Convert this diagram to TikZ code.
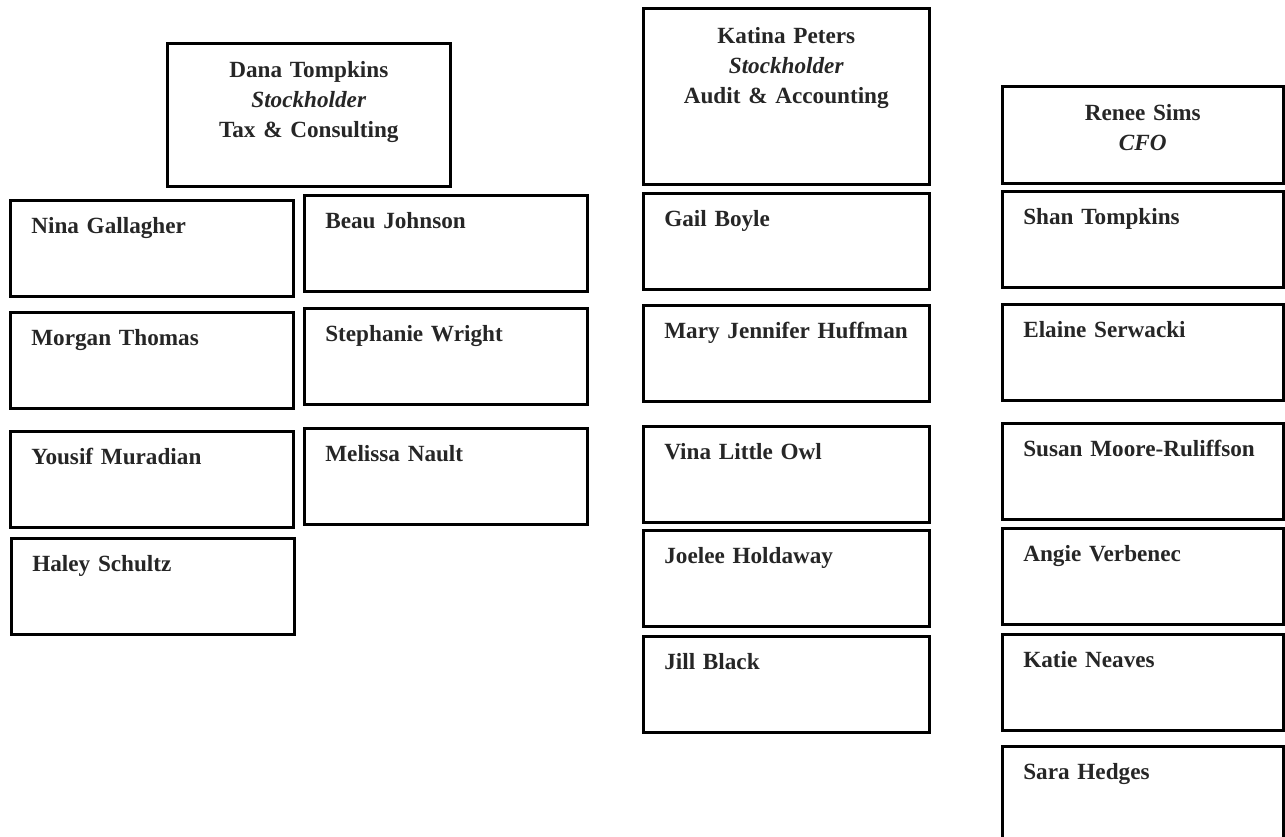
\documentclass[tikz,border=0pt]{standalone}
\usepackage{fontspec}
\setmainfont{Liberation Serif}
\usepackage{tikz}

\begin{document}
\begin{tikzpicture}[x=0.02cm,y=-0.02cm,
  box/.style={draw, line width=1.5pt, anchor=north west, inner ysep=0pt, inner xsep=0.42cm,
    font=\bfseries\fontsize{13.2}{17}\selectfont, text=black!85, text height=0.66cm},
  head/.style={box, align=center, text width=4.82cm},
  staff/.style={box, align=left, text width=#1, text depth=1.26cm},
  staff/.default=4.82cm]
       \useasboundingbox (0,0) rectangle (1285,837);

       \node[head, text height=0.68cm, text depth=2.18cm] (dana) at (166,42) {Dana Tompkins\\\textit{Stockholder}\\Tax \& Consulting};
       \node[head, text width=4.88cm, text height=0.7cm, text depth=2.82cm] (katina) at (642,7) {Katina Peters\\\textit{Stockholder}\\Audit \& Accounting};
       \node[head, text width=4.78cm, text height=0.68cm, text depth=1.26cm] (renee) at (1001,85) {Renee Sims\\\textit{CFO}};

       \node[staff] (nina) at (9,199) {Nina Gallagher};
       \node[staff] (beau) at (303,194) {Beau Johnson};
       \node[staff] (morgan) at (9,311) {Morgan Thomas};
       \node[staff] (stephanie) at (303,307) {Stephanie Wright};
       \node[staff] (yousif) at (9,430) {Yousif Muradian};
       \node[staff] (melissa) at (303,427) {Melissa Nault};
       \node[staff] (haley) at (10,537) {Haley Schultz};

       \node[staff=4.88cm] (gail) at (642,192) {Gail Boyle};
       \node[staff=4.88cm] (mary) at (642,304) {Mary Jennifer Huffman};
       \node[staff=4.88cm] (vina) at (642,425) {Vina Little Owl};
       \node[staff=4.88cm] (joelee) at (642,529) {Joelee Holdaway};
       \node[staff=4.88cm] (jill) at (642,635) {Jill Black};

       \node[staff=4.78cm] (shan) at (1001,190) {Shan Tompkins};
       \node[staff=4.78cm] (elaine) at (1001,303) {Elaine Serwacki};
       \node[staff=4.78cm] (susan) at (1001,422) {Susan Moore-Ruliffson};
       \node[staff=4.78cm] (angie) at (1001,527) {Angie Verbenec};
       \node[staff=4.78cm] (katie) at (1001,633) {Katie Neaves};
       \node[staff=4.78cm] (sara) at (1001,745) {Sara Hedges};
    \end{tikzpicture}
\end{document}
